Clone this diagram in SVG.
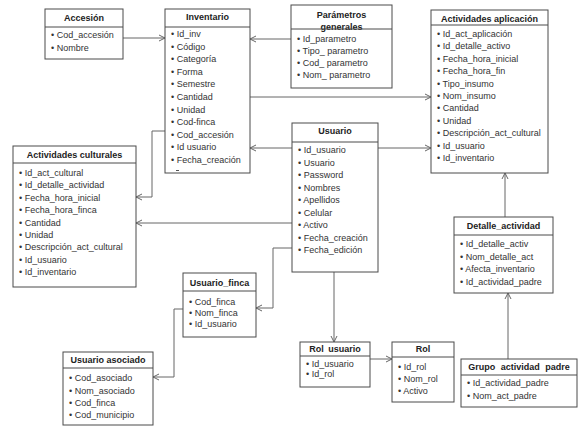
<svg xmlns="http://www.w3.org/2000/svg" width="583" height="431" viewBox="0 0 583 431">
<style>
.box{fill:#fff;stroke:#4a4a4a;stroke-width:1}
.hd{stroke:#4a4a4a;stroke-width:1}
.t{font-family:"Liberation Sans",Arial,sans-serif;font-size:9px;font-weight:bold;fill:#222;text-anchor:middle}
.i{font-family:"Liberation Sans",Arial,sans-serif;font-size:9px;fill:#333}
.c{fill:none;stroke:#666;stroke-width:1}
</style>
<defs>
<marker id="a" markerWidth="8" markerHeight="8" refX="7" refY="4" orient="auto" markerUnits="userSpaceOnUse">
<path d="M1,1 L7,4 L1,7" fill="none" stroke="#666" stroke-width="1"/>
</marker>
</defs>
<rect width="583" height="431" fill="#fff"/>
<g id="connectors">
<path class="c" d="M123,38 H165" marker-end="url(#a)"/>
<path class="c" d="M291,39 H250" marker-end="url(#a)"/>
<path class="c" d="M250,97 H431" marker-end="url(#a)"/>
<path class="c" d="M165,131 H152 V197 H136" marker-end="url(#a)"/>
<path class="c" d="M292,148 H250" marker-end="url(#a)"/>
<path class="c" d="M378,148 H431" marker-end="url(#a)"/>
<path class="c" d="M292,223 H136" marker-end="url(#a)"/>
<path class="c" d="M292,248 H273 V308 H256" marker-end="url(#a)"/>
<path class="c" d="M334,272 V342" marker-end="url(#a)"/>
<path class="c" d="M370,359 H392" marker-end="url(#a)"/>
<path class="c" d="M505,217 V173" marker-end="url(#a)"/>
<path class="c" d="M508,359 V293" marker-end="url(#a)"/>
<path class="c" d="M185,309 H174 V377 H153" marker-end="url(#a)"/>
</g>
<g id="accesion">
<rect class="box" x="45" y="9" width="78" height="50"/>
<line class="hd" x1="45" y1="27" x2="123" y2="27"/>
<text class="t" x="84" y="21">Accesión</text>
<text class="i" x="51" y="38">• Cod_accesión</text>
<text class="i" x="51" y="51">• Nombre</text>
</g>
<g id="inventario">
<rect class="box" x="165" y="9" width="85" height="164"/>
<line class="hd" x1="165" y1="27" x2="250" y2="27"/>
<text class="t" x="207.5" y="20">Inventario</text>
<text class="i" x="171" y="37">• Id_inv</text>
<text class="i" x="171" y="49.6">• Código</text>
<text class="i" x="171" y="62.2">• Categoría</text>
<text class="i" x="171" y="74.8">• Forma</text>
<text class="i" x="171" y="87.4">• Semestre</text>
<text class="i" x="171" y="100">• Cantidad</text>
<text class="i" x="171" y="112.6">• Unidad</text>
<text class="i" x="171" y="125.2">• Cod-finca</text>
<text class="i" x="171" y="137.8">• Cod_accesión</text>
<text class="i" x="171" y="150.4">• Id usuario</text>
<text class="i" x="171" y="163">• Fecha_creación</text>
<line x1="176" y1="170.5" x2="179" y2="170.5" stroke="#555" stroke-width="1"/>
</g>
<g id="parametros">
<rect class="box" x="291" y="5" width="101" height="83"/>
<text class="t" x="341.5" y="18">Parámetros</text>
<text class="t" x="341.5" y="30">generales</text>
<line class="hd" x1="291" y1="29" x2="392" y2="29"/>
<text class="i" x="297" y="42">• Id_parametro</text>
<text class="i" x="297" y="54">• Tipo_ parametro</text>
<text class="i" x="297" y="66">• Cod_ parametro</text>
<text class="i" x="297" y="78">• Nom_ parametro</text>
</g>
<g id="act_aplicacion">
<rect class="box" x="431" y="10" width="117" height="163"/>
<line class="hd" x1="431" y1="25" x2="548" y2="25"/>
<text class="t" x="489.5" y="22">Actividades aplicación</text>
<text class="i" x="437" y="37">• Id_act_aplicación</text>
<text class="i" x="437" y="49.4">• Id_detalle_activo</text>
<text class="i" x="437" y="61.8">• Fecha_hora_inicial</text>
<text class="i" x="437" y="74.2">• Fecha_hora_fin</text>
<text class="i" x="437" y="86.6">• Tipo_insumo</text>
<text class="i" x="437" y="99">• Nom_insumo</text>
<text class="i" x="437" y="111.4">• Cantidad</text>
<text class="i" x="437" y="123.8">• Unidad</text>
<text class="i" x="437" y="136.2">• Descripción_act_cultural</text>
<text class="i" x="437" y="148.6">• Id_usuario</text>
<text class="i" x="437" y="161">• Id_inventario</text>
</g>
<g id="act_culturales">
<rect class="box" x="13" y="146" width="123" height="141"/>
<line class="hd" x1="13" y1="163" x2="136" y2="163"/>
<text class="t" x="74.5" y="158">Actividades culturales</text>
<text class="i" x="19" y="176">• Id_act_cultural</text>
<text class="i" x="19" y="188.4">• Id_detalle_actividad</text>
<text class="i" x="19" y="200.8">• Fecha_hora_inicial</text>
<text class="i" x="19" y="213.2">• Fecha_hora_finca</text>
<text class="i" x="19" y="225.6">• Cantidad</text>
<text class="i" x="19" y="238">• Unidad</text>
<text class="i" x="19" y="250.4">• Descripción_act_cultural</text>
<text class="i" x="19" y="262.8">• Id_usuario</text>
<text class="i" x="19" y="275.2">• Id_inventario</text>
</g>
<g id="usuario">
<rect class="box" x="292" y="123" width="86" height="149"/>
<line class="hd" x1="292" y1="142" x2="378" y2="142"/>
<text class="t" x="335" y="134">Usuario</text>
<text class="i" x="298" y="153">• Id_usuario</text>
<text class="i" x="298" y="165.5">• Usuario</text>
<text class="i" x="298" y="178">• Password</text>
<text class="i" x="298" y="190.5">• Nombres</text>
<text class="i" x="298" y="203">• Apellidos</text>
<text class="i" x="298" y="215.5">• Celular</text>
<text class="i" x="298" y="228">• Activo</text>
<text class="i" x="298" y="240.5">• Fecha_creación</text>
<text class="i" x="298" y="253">• Fecha_edición</text>
</g>
<g id="usuario_finca">
<rect class="box" x="183" y="273" width="73" height="64"/>
<line class="hd" x1="183" y1="291" x2="256" y2="291"/>
<text class="t" x="219.5" y="286">Usuario_finca</text>
<text class="i" x="189" y="305">• Cod_finca</text>
<text class="i" x="189" y="316">• Nom_finca</text>
<text class="i" x="189" y="327">• Id_usuario</text>
</g>
<g id="usuario_asociado">
<rect class="box" x="63" y="352" width="90" height="73"/>
<line class="hd" x1="63" y1="368" x2="153" y2="368"/>
<text class="t" x="108" y="363">Usuario asociado</text>
<text class="i" x="69" y="381">• Cod_asociado</text>
<text class="i" x="69" y="393.5">• Nom_asociado</text>
<text class="i" x="69" y="406">• Cod_finca</text>
<text class="i" x="69" y="418">• Cod_municipio</text>
</g>
<g id="rol_usuario">
<rect class="box" x="300" y="342" width="70" height="45"/>
<line class="hd" x1="300" y1="356" x2="370" y2="356"/>
<text class="t" x="335" y="352" word-spacing="2">Rol usuario</text>
<text class="i" x="306" y="367">• Id_usuario</text>
<text class="i" x="306" y="377">• Id_rol</text>
</g>
<g id="rol">
<rect class="box" x="392" y="342" width="62" height="60"/>
<line class="hd" x1="392" y1="357" x2="454" y2="357"/>
<text class="t" x="423" y="352">Rol</text>
<text class="i" x="398" y="370">• Id_rol</text>
<text class="i" x="398" y="382">• Nom_rol</text>
<text class="i" x="398" y="394">• Activo</text>
</g>
<g id="detalle_actividad">
<rect class="box" x="454" y="217" width="99" height="76"/>
<line class="hd" x1="454" y1="235" x2="553" y2="235"/>
<text class="t" x="503.5" y="229">Detalle_actividad</text>
<text class="i" x="460" y="247">• Id_detalle_activ</text>
<text class="i" x="460" y="259.5">• Nom_detalle_act</text>
<text class="i" x="460" y="272">• Afecta_inventario</text>
<text class="i" x="460" y="284.5">• Id_actividad_padre</text>
</g>
<g id="grupo_actividad_padre">
<rect class="box" x="461" y="359" width="116" height="48"/>
<line class="hd" x1="461" y1="375" x2="577" y2="375"/>
<text class="t" x="519" y="370" word-spacing="3">Grupo actividad padre</text>
<text class="i" x="467" y="386">• Id_actividad_padre</text>
<text class="i" x="467" y="399">• Nom_act_padre</text>
</g>
</svg>
